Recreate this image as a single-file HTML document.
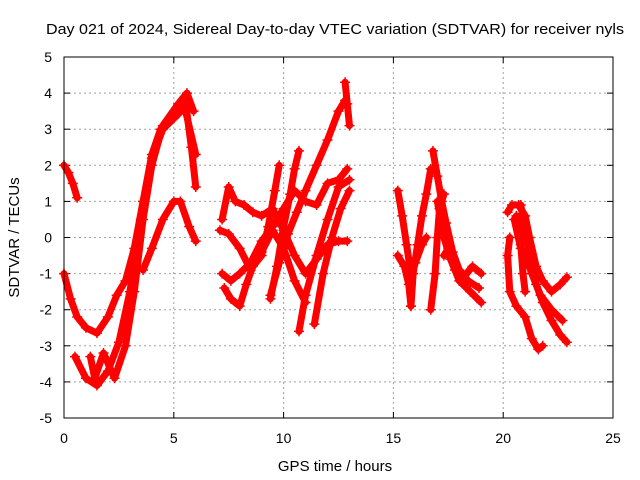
<!DOCTYPE html>
<html><head><meta charset="utf-8"><style>
body{margin:0;background:#fff}
svg{display:block;font-family:"Liberation Sans",sans-serif}
</style></head><body>
<svg id="chart" width="640" height="480">
<rect width="640" height="480" fill="#fff"/>
<text x="335" y="34" font-size="15" text-anchor="middle" textLength="578" lengthAdjust="spacingAndGlyphs">Day 021 of 2024, Sidereal Day-to-day VTEC variation (SDTVAR) for receiver nyls</text>
<text x="335" y="471" font-size="15" text-anchor="middle">GPS time / hours</text>
<text x="0" y="0" font-size="15" text-anchor="middle" transform="translate(19,237.5) rotate(-90)">SDTVAR / TECUs</text>
<g id="grid"></g>
<g id="axes"></g>
<g id="series"></g>
<rect x="64" y="57" width="549" height="361" fill="none" stroke="#000" stroke-width="1"/>
</svg>
<script>
const xTicks=[0,5,10,15,20,25];
const yTicks=[-5,-4,-3,-2,-1,0,1,2,3,4,5];
const trackA=[[0,2.0],[0.2,1.8],[0.4,1.5],[0.6,1.1]];
const trackB=[[0,-1.0],[0.3,-1.7],[0.6,-2.2],[1.0,-2.5],[1.5,-2.65],[2.0,-2.2],[2.4,-1.6],[2.8,-1.2],[3.2,-0.3],[3.6,1.0],[4.0,2.3],[4.4,3.0],[5.0,3.4],[5.5,3.9],[5.8,2.5],[6.0,1.4]];
const trackC=[[0.5,-3.3],[1.0,-3.9],[1.5,-4.1],[2.0,-3.7],[2.5,-2.9],[3.0,-1.5],[3.5,0.5],[4.0,2.2],[4.5,3.0],[5.0,3.3],[5.5,3.6],[6.0,2.3]];
const trackD=[[1.2,-3.3],[1.4,-3.9],[1.8,-3.2],[2.3,-3.9],[2.8,-3.0],[3.2,-1.5],[3.6,0.5],[4.0,2.0],[4.5,3.1],[5.2,3.7],[5.6,4.0],[5.9,3.5]];
const trackE=[[3.6,-0.9],[4.0,-0.3],[4.5,0.5],[5.0,1.0],[5.3,1.0],[5.7,0.3],[6.0,-0.1]];
const trackF=[[7.2,-1.0],[7.6,-1.2],[8.0,-1.0],[8.5,-0.7],[9.0,-0.1],[9.5,0.3],[10.0,0.8],[10.5,1.3],[11.0,1.0],[11.5,0.9],[12.0,1.5],[12.5,1.6],[12.9,1.9]];
const trackG=[[7.2,0.5],[7.5,1.4],[7.8,1.0],[8.2,0.9],[8.6,0.7],[9.0,0.6],[9.5,0.8],[10.0,0.2],[10.5,-0.5],[11.0,-1.0],[11.5,-0.6],[12.0,-0.2],[12.5,-0.1],[12.9,-0.1]];
const trackH=[[7.3,-1.4],[7.6,-1.7],[8.0,-1.9],[8.3,-1.3],[8.6,-0.8],[9.0,-0.5],[9.3,0.3],[9.6,1.3],[9.8,2.0]];
const trackI=[[9.4,-1.6],[9.8,-0.7],[10.2,0.1],[10.6,0.7],[11.0,1.3],[11.5,2.0],[12.0,2.7],[12.5,3.5],[12.8,3.8]];
const trackJ=[[9.4,-1.7],[9.7,-0.8],[10.0,0.3],[10.3,1.2],[10.5,1.9],[10.7,2.4]];
const trackK=[[10.7,-2.6],[11.0,-1.6],[11.5,-0.5],[12.0,0.5],[12.5,1.4],[13.0,1.6]];
const trackL=[[11.4,-2.4],[11.8,-1.0],[12.2,0.0],[12.6,0.8],[13.0,1.3]];
const trackM=[[7.1,0.2],[7.5,0.1],[8.0,-0.3],[8.5,-0.9],[9.0,-0.4],[9.5,0.2],[10.0,-0.3],[10.5,-1.2],[11.0,-1.8]];
const trackN=[[12.8,4.3],[12.9,3.7],[13.0,3.1]];
const trackO=[[15.2,1.3],[15.4,0.6],[15.6,-0.2],[15.8,-1.0],[16.0,-0.7],[16.3,-0.2],[16.5,0.0]];
const trackP=[[15.2,-0.5],[15.5,-0.8],[15.7,-1.3],[15.8,-1.9]];
const trackQ=[[15.8,-1.9],[15.9,-1.0],[16.1,-0.2],[16.3,0.6],[16.5,1.2],[16.7,1.9]];
const trackR=[[16.8,2.4],[17.0,1.7],[17.2,1.0],[17.4,0.4],[17.7,-0.4],[18.0,-0.9],[18.4,-1.2],[18.9,-1.4]];
const trackS=[[16.7,-2.0],[16.9,-1.0],[17.0,0.0],[17.1,0.8],[17.3,1.2]];
const trackT=[[17.0,1.0],[17.3,0.0],[17.6,-0.6],[18.0,-1.2],[18.5,-1.5],[19.0,-1.8]];
const trackU=[[17.3,-0.5],[17.5,-0.3],[17.8,-0.9],[18.2,-1.1],[18.6,-0.8],[19.0,-1.0]];
const trackV=[[20.2,0.7],[20.4,0.9],[20.7,0.9],[21.0,0.6],[21.2,0.0],[21.5,-0.8],[21.8,-1.2],[22.2,-1.5],[22.6,-1.3],[22.9,-1.1]];
const trackW=[[20.5,0.5],[20.8,-0.3],[21.0,-0.5],[21.3,-1.0],[21.7,-1.6],[22.2,-2.0],[22.7,-2.3]];
const trackX=[[20.8,0.9],[21.0,0.2],[21.2,-0.5],[21.5,-1.3],[21.8,-1.8],[22.2,-2.3],[22.6,-2.7],[22.9,-2.9]];
const trackY=[[20.3,0.0],[20.2,-0.5],[20.3,-1.5],[20.6,-1.9],[21.0,-2.2],[21.3,-2.8],[21.6,-3.1],[21.8,-3.0]];
const trackZ=[[20.6,0.6],[20.8,-0.2],[20.9,-1.0],[21.0,-1.5]];
const tracks=[trackA,trackB,trackC,trackD,trackE,trackF,trackG,trackH,trackI,trackJ,trackK,trackL,trackM,trackN,trackO,trackP,trackQ,trackR,trackS,trackT,trackU,trackV,trackW,trackX,trackY,trackZ];

const NS="http://www.w3.org/2000/svg";
const X0=64,X1=613,Y0=418,Y1=57;
function sx(t){return X0+(t-0)/(25-0)*(X1-X0);}
function sy(v){return Y0-(v+5)/10*(Y0-Y1);}
function mk(tag,attrs,parent){const e=document.createElementNS(NS,tag);for(const k in attrs)e.setAttribute(k,attrs[k]);parent.appendChild(e);return e;}
const grid=document.getElementById('grid'),axes=document.getElementById('axes'),series=document.getElementById('series');
xTicks.forEach(t=>{
  const x=sx(t);
  if(t>0&&t<25){const l=mk('line',{x1:x,x2:x,y1:Y1,y2:Y0,stroke:'#a0a0a0','stroke-dasharray':'2,3'},grid);
  
  }
  mk('line',{x1:x,x2:x,y1:Y0,y2:Y0-6,stroke:'#000'},axes);
  mk('line',{x1:x,x2:x,y1:Y1,y2:Y1+6,stroke:'#000'},axes);
  const tx=mk('text',{x:x,y:443,'font-size':14,'text-anchor':'middle'},axes);
  tx.textContent=t;
  
  
});
yTicks.forEach(v=>{
  const y=sy(v);
  if(v>-5&&v<5){const l=mk('line',{x1:X0,x2:X1,y1:y,y2:y,stroke:'#a0a0a0','stroke-dasharray':'2,3'},grid);
  
  }
  mk('line',{x1:X0,x2:X0+6,y1:y,y2:y,stroke:'#000'},axes);
  mk('line',{x1:X1,x2:X1-6,y1:y,y2:y,stroke:'#000'},axes);
  const tx=mk('text',{x:52,y:y+5,'font-size':14,'text-anchor':'end'},axes);
  tx.textContent=v;
  
  
});
tracks.forEach((tr,i)=>{
  const g=mk('g',{},series);
  
  
  const pts=tr.map(p=>sx(p[0])+','+sy(p[1])).join(' ');
  mk('polyline',{points:pts,fill:'none',stroke:'#f00','stroke-width':7,'stroke-linejoin':'round','stroke-linecap':'round'},g);
  tr.forEach(p=>{
    const x=sx(p[0]),y=sy(p[1]);
    const m=mk('path',{d:`M${x-5},${y}h10M${x},${y-5}v10`,stroke:'#f00','stroke-width':1.5},g);
    
    
  });
});
</script>
</body></html>
